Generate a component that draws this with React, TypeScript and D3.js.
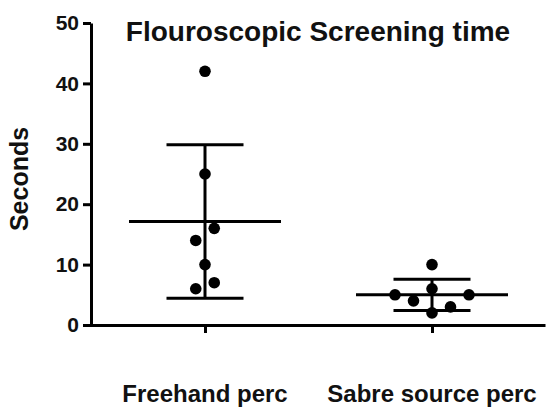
import React, { useRef, useEffect } from "react";
import * as d3 from "d3";

const categories = ["Freehand perc", "Sabre source perc"];
const freehandValues = [42, 25, 16, 14, 10, 7, 6];
const freehandSlots = [0, 0, 0.5, -0.5, 0, 0.5, -0.5];
const sabreValues = [10, 6, 5, 5, 4, 3, 2];
const sabreSlots = [0, 0, -2, 2, -1, 1, 0];
const yTicks = [0, 10, 20, 30, 40, 50];

const groups = [
  { name: categories[0], values: freehandValues, slots: freehandSlots },
  { name: categories[1], values: sabreValues, slots: sabreSlots },
];

const W = 547;
const H = 407;
const FONT = "'Liberation Sans', Arial, Helvetica, sans-serif";

const App = () => {
  const ref = useRef<SVGSVGElement>(null);

  useEffect(() => {
    const svg = d3.select(ref.current);
    svg.selectAll("*").remove();

    const x = d3.scalePoint<string>().domain(categories).range([91.5, 545.5]).padding(0.5);
    const y = d3.scaleLinear().domain([0, 50]).range([325, 23]);
    const slotW = 18.5;

    // axes
    const yAxis = d3
      .axisLeft(y)
      .tickValues(yTicks)
      .tickSize(8)
      .tickPadding(4)
      .tickSizeOuter(0);
    const yg = svg.append("g").attr("transform", "translate(91,0)").call(yAxis);
    yg.select(".domain").attr("stroke-width", 3).attr("stroke", "#000");
    yg.selectAll(".tick line").attr("stroke-width", 3).attr("stroke", "#000");
    yg.selectAll(".tick text")
      .attr("font-family", FONT)
      .attr("font-weight", "bold")
      .attr("font-size", 21)
      .attr("fill", "#111");

    const xAxis = d3.axisBottom(x).tickSize(8).tickSizeOuter(0).tickFormat(() => "");
    const xg = svg.append("g").attr("transform", "translate(0,325)").call(xAxis);
    xg.select(".domain").attr("stroke-width", 3).attr("stroke", "#000").attr("d", "M89.5,0.5H545.5");
    xg.selectAll(".tick line").attr("stroke-width", 3).attr("stroke", "#000");

    // category labels
    svg
      .selectAll("text.cat")
      .data(categories)
      .join("text")
      .attr("class", "cat")
      .attr("x", (d) => x(d)!)
      .attr("y", 402)
      .attr("text-anchor", "middle")
      .attr("font-family", FONT)
      .attr("font-weight", "bold")
      .attr("font-size", 24)
      .attr("fill", "#111")
      .text((d) => d);

    // mean + SD
    groups.forEach((g) => {
      const cx = x(g.name)!;
      const m = d3.mean(g.values)!;
      const sd = d3.deviation(g.values)!;
      const grp = svg.append("g").attr("stroke", "#000").attr("stroke-width", 3);
      grp.append("line").attr("x1", cx).attr("x2", cx).attr("y1", y(m + sd)).attr("y2", y(m - sd));
      grp.append("line").attr("x1", cx - 76).attr("x2", cx + 76).attr("y1", y(m)).attr("y2", y(m));
      [m + sd, m - sd].forEach((v) => {
        grp.append("line").attr("x1", cx - 38.5).attr("x2", cx + 38.5).attr("y1", y(v)).attr("y2", y(v));
      });

      svg
        .append("g")
        .selectAll("circle")
        .data(g.values)
        .join("circle")
        .attr("cx", (d, i) => cx + g.slots[i] * slotW)
        .attr("cy", (d) => y(d))
        .attr("r", 5.8)
        .attr("fill", "#000");
    });

    // title
    svg
      .append("text")
      .attr("x", 318)
      .attr("y", 41)
      .attr("text-anchor", "middle")
      .attr("font-family", FONT)
      .attr("font-weight", "bold")
      .attr("font-size", 28)
      .attr("fill", "#111")
      .text("Flouroscopic Screening time");

    // y label
    svg
      .append("text")
      .attr("transform", "translate(28,179) rotate(-90)")
      .attr("text-anchor", "middle")
      .attr("font-family", FONT)
      .attr("font-weight", "bold")
      .attr("font-size", 25)
      .attr("fill", "#111")
      .text("Seconds");
  }, []);

  return (
    <div style={{ position: "absolute", left: 0, top: 0 }}>
      <svg ref={ref} width={W} height={H} style={{ display: "block", background: "#fff" }} />
    </div>
  );
};

export default App;
